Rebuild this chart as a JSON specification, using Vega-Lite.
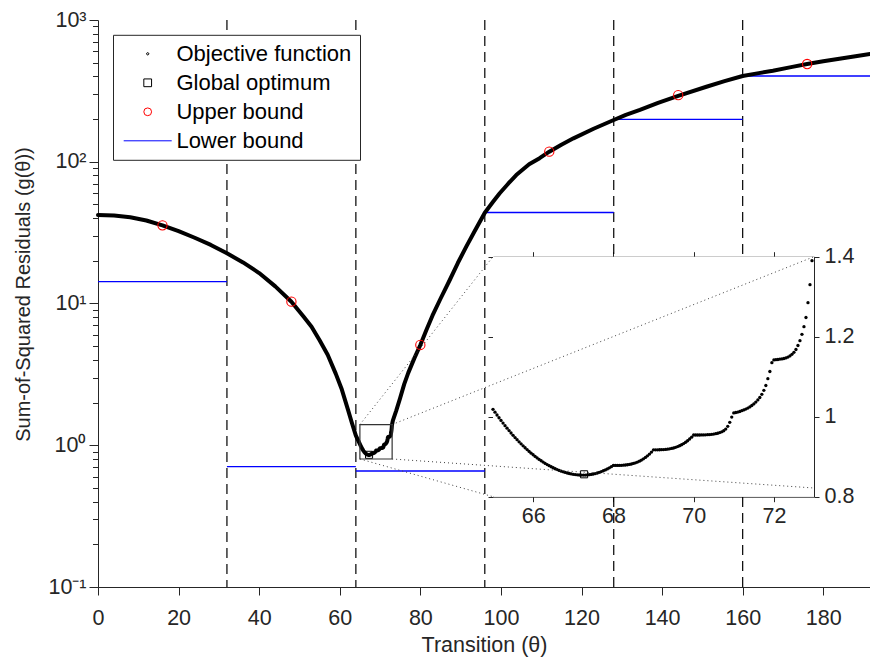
{
  "$schema": "https://vega.github.io/schema/vega-lite/v6.json",
  "width": 772,
  "height": 567,
  "autosize": {"type": "none"},
  "padding": {"left": 98, "top": 20, "right": 0, "bottom": 73},
  "background": "white",
  "config": {
    "view": {"stroke": null},
    "font": "Liberation Sans",
    "axis": {
      "grid": false,
      "domainColor": "#262626",
      "tickColor": "#262626",
      "labelColor": "#262626",
      "titleColor": "#262626",
      "labelFont": "Liberation Sans",
      "titleFont": "Liberation Sans",
      "labelFontSize": 21.5,
      "titleFontSize": 21.5,
      "titleFontWeight": "normal",
      "domainWidth": 1,
      "tickWidth": 1,
      "labelFlush": false,
      "labelOverlap": false
    },
    "legend": {
      "orient": "none",
      "legendX": 15,
      "legendY": 14.8,
      "strokeColor": "#262626",
      "fillColor": "white",
      "padding": 8,
      "labelFont": "Liberation Sans",
      "labelFontSize": 22,
      "labelColor": "#000000",
      "labelLimit": 0,
      "rowPadding": 7,
      "symbolSize": 60,
      "symbolStrokeWidth": 1,
      "symbolOffset": 15.7,
      "labelOffset": 17.7,
      "symbolOpacity": 1,
      "symbolFillColor": "transparent",
      "cornerRadius": 0
    }
  },
  "datasets": {
    "curve": [
      {"t": 0, "g": 42.1}, {"t": 4, "g": 41.7}, {"t": 8, "g": 40.6}, {"t": 12, "g": 38.5},
      {"t": 16, "g": 35.6}, {"t": 20, "g": 32.4}, {"t": 24, "g": 29.1}, {"t": 28, "g": 25.9},
      {"t": 32, "g": 22.6}, {"t": 36, "g": 19.5}, {"t": 40, "g": 16.4}, {"t": 44, "g": 13.2},
      {"t": 48, "g": 10.3}, {"t": 51, "g": 8.1}, {"t": 53, "g": 6.86}, {"t": 55, "g": 5.5},
      {"t": 57, "g": 4.35}, {"t": 59, "g": 3.2}, {"t": 60.5, "g": 2.48}, {"t": 62, "g": 1.8},
      {"t": 63, "g": 1.44}, {"t": 64, "g": 1.17}, {"t": 64.5, "g": 1.09},
      {"t": 65.00, "g": 1.0185}, {"t": 65.05, "g": 1.0113}, {"t": 65.10, "g": 1.0042}, {"t": 65.15, "g": 0.9973},
      {"t": 65.20, "g": 0.9906}, {"t": 65.25, "g": 0.984}, {"t": 65.30, "g": 0.9776}, {"t": 65.35, "g": 0.9713},
      {"t": 65.40, "g": 0.9652}, {"t": 65.45, "g": 0.9593}, {"t": 65.50, "g": 0.9535}, {"t": 65.55, "g": 0.9479},
      {"t": 65.60, "g": 0.9425}, {"t": 65.65, "g": 0.9372}, {"t": 65.70, "g": 0.9321}, {"t": 65.75, "g": 0.9271},
      {"t": 65.80, "g": 0.9223}, {"t": 65.85, "g": 0.9177}, {"t": 65.90, "g": 0.9132}, {"t": 65.95, "g": 0.9089},
      {"t": 66.00, "g": 0.9048}, {"t": 66.05, "g": 0.9008}, {"t": 66.10, "g": 0.897}, {"t": 66.15, "g": 0.8933},
      {"t": 66.20, "g": 0.8898}, {"t": 66.25, "g": 0.8865}, {"t": 66.30, "g": 0.8833}, {"t": 66.35, "g": 0.8803},
      {"t": 66.40, "g": 0.8775}, {"t": 66.45, "g": 0.8748}, {"t": 66.50, "g": 0.8723}, {"t": 66.55, "g": 0.8699},
      {"t": 66.60, "g": 0.8677}, {"t": 66.65, "g": 0.8657}, {"t": 66.70, "g": 0.8638}, {"t": 66.75, "g": 0.8621},
      {"t": 66.80, "g": 0.8606}, {"t": 66.85, "g": 0.8592}, {"t": 66.90, "g": 0.858}, {"t": 66.95, "g": 0.8569},
      {"t": 67.00, "g": 0.856}, {"t": 67.05, "g": 0.8553}, {"t": 67.10, "g": 0.8547}, {"t": 67.15, "g": 0.8543},
      {"t": 67.20, "g": 0.8541}, {"t": 67.25, "g": 0.854}, {"t": 67.30, "g": 0.8541}, {"t": 67.35, "g": 0.8544},
      {"t": 67.40, "g": 0.855}, {"t": 67.45, "g": 0.8557}, {"t": 67.50, "g": 0.8567}, {"t": 67.55, "g": 0.8579},
      {"t": 67.60, "g": 0.8593}, {"t": 67.65, "g": 0.8609}, {"t": 67.70, "g": 0.8627}, {"t": 67.75, "g": 0.8648},
      {"t": 67.80, "g": 0.867}, {"t": 67.85, "g": 0.8695}, {"t": 67.90, "g": 0.8722}, {"t": 67.95, "g": 0.8751},
      {"t": 68.00, "g": 0.8782}, {"t": 68.05, "g": 0.8782}, {"t": 68.10, "g": 0.8782}, {"t": 68.15, "g": 0.8783},
      {"t": 68.20, "g": 0.8785}, {"t": 68.25, "g": 0.8788}, {"t": 68.30, "g": 0.8793}, {"t": 68.35, "g": 0.8799},
      {"t": 68.40, "g": 0.8807}, {"t": 68.45, "g": 0.8818}, {"t": 68.50, "g": 0.8831}, {"t": 68.55, "g": 0.8847},
      {"t": 68.60, "g": 0.8866}, {"t": 68.65, "g": 0.8889}, {"t": 68.70, "g": 0.8916}, {"t": 68.75, "g": 0.8947},
      {"t": 68.80, "g": 0.8982}, {"t": 68.85, "g": 0.9022}, {"t": 68.90, "g": 0.9066}, {"t": 68.95, "g": 0.9116},
      {"t": 69.00, "g": 0.9172}, {"t": 69.05, "g": 0.9172}, {"t": 69.10, "g": 0.9172}, {"t": 69.15, "g": 0.9173},
      {"t": 69.20, "g": 0.9175}, {"t": 69.25, "g": 0.9178}, {"t": 69.30, "g": 0.9182}, {"t": 69.35, "g": 0.9188},
      {"t": 69.40, "g": 0.9196}, {"t": 69.45, "g": 0.9206}, {"t": 69.50, "g": 0.9218}, {"t": 69.55, "g": 0.9234},
      {"t": 69.60, "g": 0.9252}, {"t": 69.65, "g": 0.9274}, {"t": 69.70, "g": 0.9299}, {"t": 69.75, "g": 0.9328},
      {"t": 69.80, "g": 0.9361}, {"t": 69.85, "g": 0.9399}, {"t": 69.90, "g": 0.9442}, {"t": 69.95, "g": 0.9489},
      {"t": 70.00, "g": 0.9542}, {"t": 70.05, "g": 0.9542}, {"t": 70.10, "g": 0.9542}, {"t": 70.15, "g": 0.9543},
      {"t": 70.20, "g": 0.9544}, {"t": 70.25, "g": 0.9545}, {"t": 70.30, "g": 0.9547}, {"t": 70.35, "g": 0.955},
      {"t": 70.40, "g": 0.9554}, {"t": 70.45, "g": 0.9559}, {"t": 70.50, "g": 0.9566}, {"t": 70.55, "g": 0.9575},
      {"t": 70.60, "g": 0.9587}, {"t": 70.65, "g": 0.9602}, {"t": 70.70, "g": 0.9622}, {"t": 70.75, "g": 0.9648},
      {"t": 70.80, "g": 0.969}, {"t": 70.85, "g": 0.976}, {"t": 70.90, "g": 0.986}, {"t": 70.95, "g": 0.999},
      {"t": 71.00, "g": 1.0095}, {"t": 71.05, "g": 1.0105}, {"t": 71.10, "g": 1.0115}, {"t": 71.15, "g": 1.013},
      {"t": 71.20, "g": 1.015}, {"t": 71.25, "g": 1.017}, {"t": 71.30, "g": 1.019}, {"t": 71.35, "g": 1.0215},
      {"t": 71.40, "g": 1.0245}, {"t": 71.45, "g": 1.028}, {"t": 71.50, "g": 1.032}, {"t": 71.55, "g": 1.0365},
      {"t": 71.60, "g": 1.042}, {"t": 71.65, "g": 1.048}, {"t": 71.70, "g": 1.056}, {"t": 71.75, "g": 1.066},
      {"t": 71.80, "g": 1.078}, {"t": 71.85, "g": 1.095}, {"t": 71.90, "g": 1.113}, {"t": 71.95, "g": 1.135},
      {"t": 72.00, "g": 1.142}, {"t": 72.05, "g": 1.1425}, {"t": 72.10, "g": 1.143}, {"t": 72.15, "g": 1.144},
      {"t": 72.20, "g": 1.1445}, {"t": 72.25, "g": 1.1455}, {"t": 72.30, "g": 1.147}, {"t": 72.35, "g": 1.149},
      {"t": 72.40, "g": 1.152}, {"t": 72.45, "g": 1.156}, {"t": 72.50, "g": 1.161}, {"t": 72.55, "g": 1.168},
      {"t": 72.60, "g": 1.178}, {"t": 72.65, "g": 1.19}, {"t": 72.70, "g": 1.206}, {"t": 72.75, "g": 1.225},
      {"t": 72.80, "g": 1.248}, {"t": 72.85, "g": 1.285}, {"t": 72.90, "g": 1.33}, {"t": 72.95, "g": 1.39},
      {"t": 73.2, "g": 1.5}, {"t": 74, "g": 1.75}, {"t": 75, "g": 2.16}, {"t": 76, "g": 2.7},
      {"t": 77, "g": 3.24}, {"t": 78.5, "g": 4.1}, {"t": 80, "g": 5.1}, {"t": 81.5, "g": 6.5},
      {"t": 83, "g": 8.2}, {"t": 85, "g": 10.8}, {"t": 87.3, "g": 14.65}, {"t": 89.3, "g": 19.3},
      {"t": 91.4, "g": 25.2}, {"t": 93.5, "g": 32.5}, {"t": 96, "g": 43.7}, {"t": 98, "g": 52},
      {"t": 99.7, "g": 59.9}, {"t": 101.8, "g": 70}, {"t": 103.8, "g": 80.6}, {"t": 107, "g": 96},
      {"t": 109.6, "g": 106}, {"t": 112, "g": 117.8}, {"t": 115, "g": 132}, {"t": 118, "g": 146.3},
      {"t": 123, "g": 171}, {"t": 128, "g": 197}, {"t": 131, "g": 214}, {"t": 134.5, "g": 232},
      {"t": 139, "g": 260}, {"t": 144, "g": 292}, {"t": 151, "g": 338}, {"t": 155.5, "g": 370},
      {"t": 160, "g": 402.7}, {"t": 164, "g": 422}, {"t": 167.5, "g": 439}, {"t": 172, "g": 465},
      {"t": 176, "g": 489}, {"t": 180, "g": 511}, {"t": 184, "g": 533}, {"t": 188, "g": 555},
      {"t": 191.6, "g": 575}
    ],
    "upper": [
      {"t": 16, "g": 35.6}, {"t": 48, "g": 10.3}, {"t": 80, "g": 5.1},
      {"t": 112, "g": 117.8}, {"t": 144, "g": 295}, {"t": 176, "g": 489}
    ],
    "lower": [
      {"t0": 0, "t1": 32, "g": 14.25}, {"t0": 32, "t1": 64, "g": 0.706}, {"t0": 64, "t1": 96, "g": 0.658},
      {"t0": 96, "t1": 128, "g": 43.85}, {"t0": 128, "t1": 160, "g": 199.3}, {"t0": 160, "t1": 191.6, "g": 402.7}
    ],
    "splits": [
      {"t": 32, "g0": 1000, "g1": 0.1},
      {"t": 64, "g0": 1000, "g1": 0.1},
      {"t": 96, "g0": 1000, "g1": 0.1},
      {"t": 128, "g0": 1000, "g1": 21.38},
      {"t": 128, "g0": 0.1, "g1": 0.434},
      {"t": 160, "g0": 1000, "g1": 21.38},
      {"t": 160, "g0": 0.1, "g1": 0.434}
    ],
    "optimum": [{"t": 67.27, "g": 0.856}],
    "connectors": [
      {"t0": 65, "g0": 1.4, "t1": 98.03, "g1": 21.39},
      {"t0": 73, "g0": 1.4, "t1": 177.7, "g1": 21.39},
      {"t0": 65, "g0": 0.8, "t1": 98.03, "g1": 0.4335},
      {"t0": 73, "g0": 0.8, "t1": 177.7, "g1": 0.4993}
    ],
    "legend": [
      {"name": "Objective function"}, {"name": "Global optimum"}, {"name": "Upper bound"}, {"name": "Lower bound"}
    ]
  },
  "layer": [
    {
      "layer": [
        {
          "data": {"name": "splits"},
          "mark": {"type": "rule", "stroke": "#000000", "strokeDash": [10, 6], "strokeWidth": 1.2},
          "encoding": {
            "x": {
              "field": "t", "type": "quantitative",
              "scale": {"type": "linear", "domain": [0, 191.6], "nice": false, "zero": false},
              "axis": {
                "orient": "bottom",
                "values": [0, 20, 40, 60, 80, 100, 120, 140, 160, 180],
                "tickSize": 8,
                "labelPadding": 12,
                "title": "Transition (θ)",
                "titlePadding": 6
              }
            },
            "y": {
              "field": "g0", "type": "quantitative",
              "scale": {"type": "log", "domain": [0.1, 1000], "nice": false},
              "axis": {
                "orient": "left",
                "values": [0.1, 0.2, 0.3, 0.4, 0.5, 0.6, 0.7, 0.8, 0.9, 1, 2, 3, 4, 5, 6, 7, 8, 9, 10, 20, 30, 40, 50, 60, 70, 80, 90, 100, 200, 300, 400, 500, 600, 700, 800, 900, 1000],
                "labelExpr": "datum.value == 0.1 ? '10⁻¹' : datum.value == 1 ? '10⁰' : datum.value == 10 ? '10¹' : datum.value == 100 ? '10²' : datum.value == 1000 ? '10³' : ''",
                "tickSize": {"condition": {"test": "indexof([0.1, 1, 10, 100, 1000], datum.value) >= 0", "value": 9}, "value": 5.5},
                "labelPadding": 3,
                "title": "Sum-of-Squared Residuals (g(θ))",
                "titleFontSize": 20,
                "titleY": 274,
                "titlePadding": 14
              }
            },
            "y2": {"field": "g1"}
          }
        },
        {
          "data": {"name": "lower"},
          "mark": {"type": "rule", "stroke": "#0000ff", "strokeWidth": 1.3},
          "encoding": {
            "x": {"field": "t0", "type": "quantitative", "scale": {"type": "linear", "domain": [0, 191.6], "nice": false, "zero": false}},
            "x2": {"field": "t1"},
            "y": {"field": "g", "type": "quantitative", "scale": {"type": "log", "domain": [0.1, 1000], "nice": false}}
          }
        },
        {
          "data": {"name": "curve"},
          "mark": {"type": "line", "stroke": "#000000", "strokeWidth": 4, "strokeCap": "round", "strokeJoin": "round"},
          "encoding": {
            "x": {"field": "t", "type": "quantitative", "scale": {"type": "linear", "domain": [0, 191.6], "nice": false, "zero": false}},
            "y": {"field": "g", "type": "quantitative", "scale": {"type": "log", "domain": [0.1, 1000], "nice": false}}
          }
        },
        {
          "data": {"name": "upper"},
          "mark": {"type": "point", "shape": "circle", "filled": false, "stroke": "#ff0000", "strokeWidth": 1.1, "size": 86, "opacity": 1},
          "encoding": {
            "x": {"field": "t", "type": "quantitative", "scale": {"type": "linear", "domain": [0, 191.6], "nice": false, "zero": false}},
            "y": {"field": "g", "type": "quantitative", "scale": {"type": "log", "domain": [0.1, 1000], "nice": false}}
          }
        },
        {
          "data": {"name": "optimum"},
          "mark": {"type": "point", "shape": "square", "filled": false, "stroke": "#000000", "strokeWidth": 1, "size": 50, "opacity": 1},
          "encoding": {
            "x": {"field": "t", "type": "quantitative", "scale": {"type": "linear", "domain": [0, 191.6], "nice": false, "zero": false}},
            "y": {"field": "g", "type": "quantitative", "scale": {"type": "log", "domain": [0.1, 1000], "nice": false}}
          }
        },
        {
          "data": {"values": [{}]},
          "mark": {"type": "rect", "fillOpacity": 0, "stroke": "#333333", "strokeWidth": 1.2},
          "encoding": {
            "x": {"datum": 65, "type": "quantitative", "scale": {"type": "linear", "domain": [0, 191.6], "nice": false, "zero": false}},
            "x2": {"datum": 73},
            "y": {"datum": 0.8, "type": "quantitative", "scale": {"type": "log", "domain": [0.1, 1000], "nice": false}},
            "y2": {"datum": 1.4}
          }
        },
        {
          "data": {"name": "legend"},
          "mark": {"type": "point", "filled": false, "opacity": 0, "size": 60},
          "encoding": {
            "color": {
              "field": "name", "type": "nominal", "title": null,
              "scale": {"domain": ["Objective function", "Global optimum", "Upper bound", "Lower bound"], "range": ["#000000", "#000000", "#ff0000", "#0000ff"]}
            },
            "shape": {
              "field": "name", "type": "nominal", "title": null,
              "scale": {"domain": ["Objective function", "Global optimum", "Upper bound", "Lower bound"], "range": ["M-0.3,0A0.3,0.3,0,1,1,0.3,0A0.3,0.3,0,1,1,-0.3,0Z", "square", "circle", "M-6.2,0L6.2,0"]}
            }
          }
        }
      ]
    },
    {
      "layer": [
        {
          "data": {"values": [{"a": 1}]},
          "mark": {"type": "rect", "fill": "#ffffff", "fillOpacity": 1, "opacity": 1},
          "encoding": {
            "x": {
              "datum": 65, "type": "quantitative",
              "scale": {"domain": [65, 73], "range": [395, 716], "nice": false, "zero": false},
              "axis": {"orient": "bottom", "offset": -90.3, "values": [66, 68, 70, 72], "tickSize": 5, "labelPadding": 4, "title": null}
            },
            "x2": {"datum": 73},
            "y": {
              "datum": 0.8, "type": "quantitative",
              "scale": {"domain": [0.8, 1.4], "range": [476.7, 236.7], "nice": false, "zero": false},
              "axis": {"orient": "right", "offset": -56, "values": [0.8, 1, 1.2, 1.4], "format": "~g", "tickSize": 5, "labelPadding": 5, "title": null}
            },
            "y2": {"datum": 1.4}
          }
        },
        {
          "data": {"name": "curve"},
          "transform": [{"filter": "datum.t >= 65 && datum.t <= 73"}],
          "mark": {"type": "point", "filled": true, "color": "#000000", "size": 11, "opacity": 1},
          "encoding": {
            "x": {
              "field": "t", "type": "quantitative",
              "scale": {"domain": [65, 73], "range": [395, 716], "nice": false, "zero": false},
              "axis": {"orient": "top", "offset": -236.7, "values": [66, 68, 70, 72], "labels": false, "tickSize": 5, "title": null}
            },
            "y": {
              "field": "g", "type": "quantitative",
              "scale": {"domain": [0.8, 1.4], "range": [476.7, 236.7], "nice": false, "zero": false},
              "axis": {"orient": "left", "offset": -395, "values": [0.8, 1, 1.2, 1.4], "labels": false, "tickSize": 5, "title": null}
            }
          }
        },
        {
          "data": {"name": "optimum"},
          "mark": {"type": "point", "shape": "square", "filled": false, "stroke": "#000000", "strokeWidth": 1, "size": 50, "opacity": 1},
          "encoding": {
            "x": {"field": "t", "type": "quantitative", "scale": {"domain": [65, 73], "range": [395, 716], "nice": false, "zero": false}, "axis": null},
            "y": {"field": "g", "type": "quantitative", "scale": {"domain": [0.8, 1.4], "range": [476.7, 236.7], "nice": false, "zero": false}, "axis": null}
          }
        }
      ],
      "resolve": {"axis": {"x": "independent", "y": "independent"}}
    },
    {
      "data": {"name": "connectors"},
      "mark": {"type": "rule", "stroke": "#404040", "strokeDash": [1, 3], "strokeWidth": 1},
      "encoding": {
        "x": {"field": "t0", "type": "quantitative", "scale": {"type": "linear", "domain": [0, 191.6], "nice": false, "zero": false}, "axis": null},
        "x2": {"field": "t1"},
        "y": {"field": "g0", "type": "quantitative", "scale": {"type": "log", "domain": [0.1, 1000], "nice": false}, "axis": null},
        "y2": {"field": "g1"}
      }
    }
  ],
  "resolve": {"scale": {"x": "independent", "y": "independent"}}
}
